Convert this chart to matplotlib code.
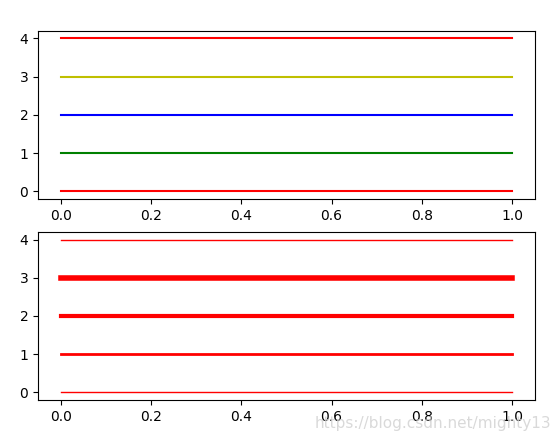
import matplotlib.pyplot as plt

x = [0, 1]
levels = [0, 1, 2, 3, 4]
top_colors = ["r", "g", "b", "y", "r"]
bottom_widths = [1, 2, 3, 4, 1]

fig = plt.figure(figsize=(5.6, 4.4), dpi=100)
ax1 = fig.add_axes([0.068, 0.548, 0.887, 0.382])
ax2 = fig.add_axes([0.068, 0.091, 0.887, 0.382])

for y, c in zip(levels, top_colors):
    ax1.plot(x, [y, y], color=c)

for y, lw in zip(levels, bottom_widths):
    ax2.plot(x, [y, y], color="r", linewidth=lw)

fig.text(0.985, 0.02, "https://blog.csdn.net/mighty13", ha="right", va="bottom",
         color="#d0d0d0", fontsize=11, alpha=0.8)

fig.savefig("out.png", dpi=100)
